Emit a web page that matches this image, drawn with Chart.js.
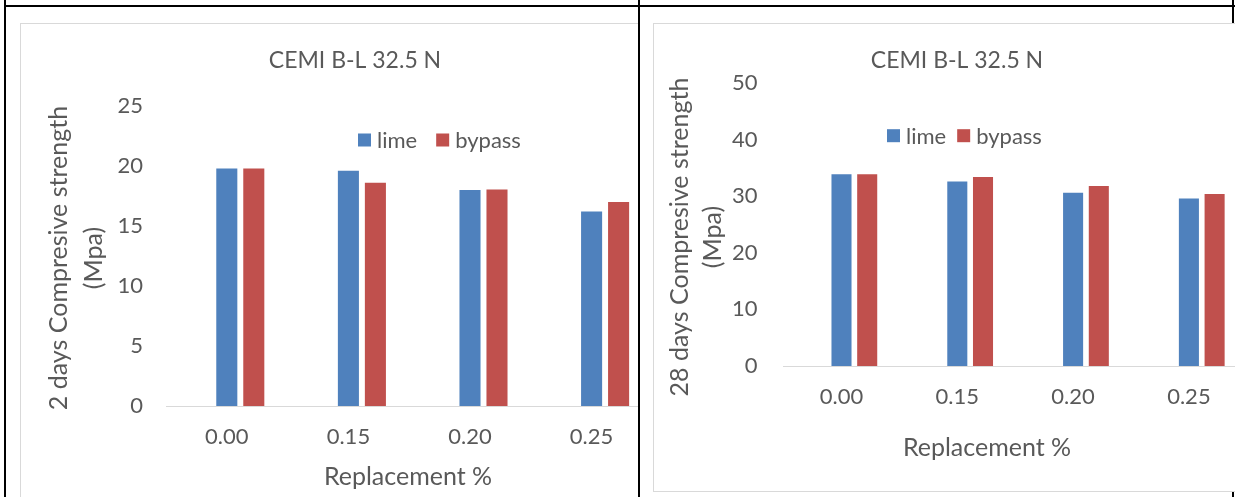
<!DOCTYPE html>
<html>
<head>
<meta charset="utf-8">
<title>CEMI B-L 32.5 N – compressive strength</title>
<script src="https://cdn.jsdelivr.net/npm/chart.js@4/dist/chart.umd.min.js"></script>
<style>
  html, body { margin: 0; padding: 0; width: 1235px; height: 497px; overflow: hidden; background: #fff; }
  .rule { position: absolute; background: #000; z-index: 1; }
  .clip { position: absolute; overflow: hidden; z-index: 2; }
  .frame { position: absolute; background: #fff; border: 1px solid #d9d9d9; box-sizing: border-box; z-index: 2; }
  canvas { position: absolute; left: 0; top: 0; }
</style>
</head>
<body>
<!-- table cell rules -->
<div class="rule" style="left:4px;top:5px;width:1231px;height:2px"></div>
<div class="rule" style="left:4px;top:0;width:2px;height:497px"></div>
<div class="rule" style="left:638px;top:0;width:2px;height:497px;z-index:3"></div>
<div class="rule" style="left:1232px;top:0;width:2px;height:497px"></div>

<!-- 2 days chart (cropped by its cell) -->
<div class="clip" style="left:20px;top:23px;width:618px;height:474px">
  <div class="frame" style="left:0;top:0;width:668px;height:487px">
    <canvas id="day2" width="668" height="487"></canvas>
  </div>
</div>

<!-- 28 days chart -->
<div class="frame" style="left:653px;top:23px;width:606px;height:469px">
  <canvas id="day28" width="606" height="469"></canvas>
</div>

<script>
// Replacement levels on the x axis
const categories = ['0.00', '0.15', '0.20', '0.25'];
const seriesNames = ['lime', 'bypass'];

// 2 days compressive strength (MPa)
const lime2 = [19.8, 19.6, 18.0, 16.2];
const bypass2 = [19.8, 18.6, 18.05, 17.0];

// 28 days compressive strength (MPa)
const lime28 = [33.9, 32.6, 30.6, 29.6];
const bypass28 = [33.9, 33.4, 31.8, 30.4];

// empty leading series of the workbook cluster (keeps the bar slots as laid out)
const emptySeries = [null, null, null, null];

// value axis ticks
const yTicks2 = [0, 5, 10, 15, 20, 25];
const yTicks28 = [0, 10, 20, 30, 40, 50];

const FONT = 'Lato, "Open Sans", sans-serif';
const TEXT = '#595959';
const LIME = '#4F81BD';
const BYPASS = '#C0504D';

// legend drawn inside the plot region
const plotLegend = (pos) => ({
  id: 'plotLegend',
  afterDraw(chart) {
    const ctx = chart.ctx;
    ctx.save();
    ctx.font = `${pos.size}px ${FONT}`;
    ctx.textBaseline = 'middle';
    ctx.textAlign = 'left';
    let x = pos.x;
    chart.data.datasets.forEach(ds => {
      if (!ds.label) return;
      ctx.fillStyle = ds.backgroundColor;
      ctx.fillRect(x, pos.y - pos.box / 2, pos.box, pos.box);
      x += pos.box + pos.textGap;
      ctx.fillStyle = TEXT;
      ctx.fillText(ds.label, x, pos.y + 1);
      x += ctx.measureText(ds.label).width + pos.itemGap;
    });
    ctx.restore();
  }
});

// axis captions (one or more lines, optionally turned upright)
const axisCaptions = (items) => ({
  id: 'axisCaptions',
  afterDraw(chart) {
    const ctx = chart.ctx;
    ctx.save();
    ctx.fillStyle = TEXT;
    ctx.textAlign = 'center';
    ctx.textBaseline = 'middle';
    for (const c of items) {
      const gap = c.gap || 0;
      ctx.save();
      ctx.font = `${c.size}px ${FONT}`;
      ctx.translate(c.x, c.y);
      if (c.vertical) ctx.rotate(-Math.PI / 2);
      c.lines.forEach((line, i) => {
        ctx.fillText(line, 0, (i - (c.lines.length - 1) / 2) * gap);
      });
      ctx.restore();
    }
    ctx.restore();
  }
});

function strengthChart(id, lime, bypass, ticks, geo, captions, legendPos) {
  return new Chart(document.getElementById(id), {
    type: 'bar',
    data: {
      labels: categories,
      datasets: [
        { label: '', data: emptySeries, backgroundColor: 'rgba(0,0,0,0)' },
        { label: seriesNames[0], data: lime, backgroundColor: LIME },
        { label: seriesNames[1], data: bypass, backgroundColor: BYPASS }
      ]
    },
    options: {
      responsive: false,
      animation: false,
      devicePixelRatio: 1,
      layout: { padding: { left: geo.padLeft, top: 0, right: geo.padRight, bottom: 0 } },
      datasets: { bar: { categoryPercentage: 0.666, barPercentage: 0.78 } },
      scales: {
        x: {
          grid: { display: false, drawTicks: false },
          border: { display: true, color: '#d9d9d9', width: 1 },
          ticks: { color: TEXT, font: { family: FONT, size: 22 }, padding: geo.xTickPad, maxRotation: 0 },
          afterFit: s => { s.height = geo.xHeight; }
        },
        y: {
          min: ticks[0],
          max: ticks[ticks.length - 1],
          grid: { display: false, drawTicks: false },
          border: { display: false },
          ticks: { stepSize: ticks[1] - ticks[0], color: TEXT, font: { family: FONT, size: 22 }, padding: geo.yTickPad },
          afterFit: s => { s.width = geo.yWidth; }
        }
      },
      plugins: {
        legend: { display: false },
        tooltip: { enabled: false },
        title: {
          display: true,
          text: 'CEMI B-L 32.5 N',
          color: TEXT,
          font: { family: FONT, size: 23, weight: 'normal', lineHeight: 1.2 },
          padding: { top: geo.titleTop, bottom: geo.titleBottom }
        }
      }
    },
    plugins: [plotLegend(legendPos), axisCaptions(captions)]
  });
}

strengthChart('day2', lime2, bypass2, yTicks2,
  { padLeft: 36.6, padRight: 36.6, xHeight: 105, yWidth: 108.4, xTickPad: 18, yTickPad: 23, titleTop: 23.2, titleBottom: 31.2 },
  [
    { lines: ['2 days Compresive strength', '(Mpa)'], x: 55, y: 234, vertical: true, gap: 35, size: 25 },
    { lines: ['Replacement %'], x: 387, y: 453, size: 25 }
  ],
  { x: 337, y: 116, box: 13, textGap: 6, itemGap: 19, size: 22 }
);

strengthChart('day28', lime28, bypass28, yTicks28,
  { padLeft: 13.2, padRight: 13.2, xHeight: 127, yWidth: 116.4, xTickPad: 18, yTickPad: 26, titleTop: 23.2, titleBottom: 8.2 },
  [
    { lines: ['28 days Compresive strength', '(Mpa)'], x: 42.5, y: 213, vertical: true, gap: 33, size: 25 },
    { lines: ['Replacement %'], x: 333, y: 424, size: 25 }
  ],
  { x: 233, y: 111.7, box: 13, textGap: 6, itemGap: 11, size: 22 }
);
</script>
</body>
</html>
